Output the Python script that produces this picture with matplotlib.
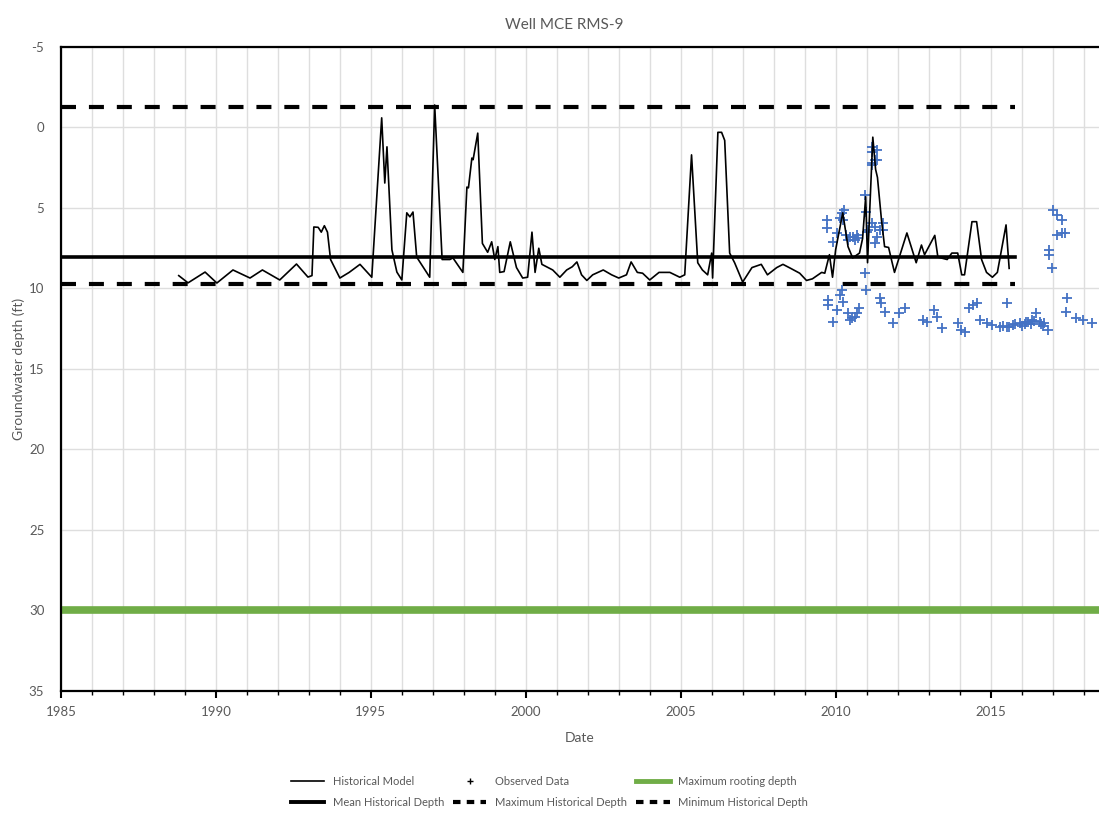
import matplotlib
matplotlib.use("Agg")
import matplotlib.pyplot as plt
from matplotlib.lines import Line2D
from matplotlib.ticker import MultipleLocator

plt.rcParams["font.family"] = ["Lato", "DejaVu Sans"]
plt.rcParams["axes.unicode_minus"] = False

# ---- data ----
model_year = [1988.8, 1989.1, 1989.65, 1990.03, 1990.55, 1991.1, 1991.5, 1992.06, 1992.6, 1992.97,
              1993.1, 1993.16, 1993.3, 1993.4, 1993.5, 1993.6, 1993.7, 1994.0, 1994.3, 1994.65,
              1995.03, 1995.35, 1995.45, 1995.52, 1995.68, 1995.84, 1996.0, 1996.16, 1996.26, 1996.36,
              1996.48, 1996.8, 1996.9, 1997.06, 1997.3, 1997.55, 1997.65, 1997.97, 1998.1, 1998.15,
              1998.26, 1998.3, 1998.45, 1998.6, 1998.77, 1998.9, 1999.0, 1999.1, 1999.16, 1999.3,
              1999.5, 1999.7, 1999.9, 2000.06, 2000.2, 2000.3, 2000.42, 2000.52, 2000.87, 2001.1,
              2001.32, 2001.5, 2001.65, 2001.8, 2001.97, 2002.16, 2002.5, 2002.77, 2003.0, 2003.25,
              2003.4, 2003.6, 2003.77, 2004.0, 2004.3, 2004.65, 2004.97, 2005.13, 2005.35, 2005.55,
              2005.7, 2005.87, 2006.0, 2006.03, 2006.2, 2006.32, 2006.42, 2006.58, 2006.74, 2007.0,
              2007.3, 2007.6, 2007.8, 2008.1, 2008.3, 2008.55, 2008.84, 2009.06, 2009.25, 2009.55,
              2009.65, 2009.8, 2009.9, 2010.0, 2010.23, 2010.4, 2010.55, 2010.77, 2010.87, 2010.97,
              2011.03, 2011.2, 2011.29, 2011.35, 2011.48, 2011.58, 2011.71, 2011.8, 2011.9, 2012.3,
              2012.6, 2012.77, 2012.87, 2013.2, 2013.3, 2013.6, 2013.75, 2013.94, 2014.07, 2014.16,
              2014.4, 2014.55, 2014.71, 2014.87, 2015.06, 2015.22, 2015.5, 2015.6]
model_depth = [9.2, 9.65, 8.98, 9.66, 8.85, 9.35, 8.85, 9.47, 8.48, 9.29,
               9.2, 6.18, 6.2, 6.5, 6.1, 6.5, 8.2, 9.35, 9.0, 8.5,
               9.3, -0.6, 3.45, 1.2, 7.6, 8.98, 9.47, 5.3, 5.55, 5.25,
               8.05, 9.0, 9.3, -1.4, 8.2, 8.2, 8.1, 9.0, 3.7, 3.75,
               1.9, 2.0, 0.35, 7.2, 7.75, 7.1, 8.2, 7.4, 9.0, 8.95,
               7.1, 8.7, 9.35, 9.3, 6.5, 9.0, 7.5, 8.5, 8.85, 9.3,
               8.85, 8.65, 8.35, 9.15, 9.5, 9.15, 8.85, 9.15, 9.35, 9.15,
               8.35, 9.0, 9.05, 9.47, 9.0, 9.0, 9.3, 9.15, 1.7, 8.4,
               8.85, 9.15, 7.8, 9.35, 0.3, 0.3, 0.8, 7.8, 8.4, 9.6,
               8.7, 8.5, 9.15, 8.7, 8.5, 8.75, 9.05, 9.5, 9.4, 9.0,
               9.05, 7.9, 9.3, 7.6, 5.3, 7.4, 8.1, 7.8, 6.9, 4.3,
               8.4, 0.6, 2.6, 3.1, 5.75, 7.4, 7.45, 8.2, 9.0, 6.55,
               8.4, 7.3, 7.9, 6.7, 8.05, 8.2, 7.8, 7.8, 9.15, 9.15,
               5.85, 5.85, 8.2, 9.0, 9.3, 9.0, 6.05, 8.75]

obs_year = [2009.71, 2009.71, 2009.90, 2010.03, 2010.13, 2010.19, 2010.26, 2010.23, 2010.35, 2010.45,
            2010.55, 2010.61, 2010.68, 2010.71, 2010.39, 2010.94, 2010.97, 2011.00, 2011.16, 2011.19,
            2011.19, 2011.26, 2011.32, 2011.35, 2011.16, 2011.19, 2011.26, 2011.32, 2011.26, 2011.42,
            2011.52, 2011.52, 2011.03, 2010.94, 2010.97,
            2009.74, 2009.74, 2010.03, 2009.90, 2010.13, 2010.19, 2010.23, 2010.39, 2010.52, 2010.61,
            2010.68, 2010.77, 2010.45, 2011.42, 2011.48, 2011.58, 2011.84, 2012.06, 2012.23, 2012.81,
            2012.94, 2013.19, 2013.26, 2013.42, 2013.94, 2014.06, 2014.16, 2014.32, 2014.42, 2014.55,
            2014.65, 2014.87, 2015.06, 2015.29, 2015.52, 2015.52, 2015.71, 2015.94, 2016.16, 2016.35,
            2016.48, 2016.58, 2016.74, 2016.84, 2017.48, 2017.45, 2017.77, 2017.97, 2018.29,
            2015.40, 2015.60, 2015.80, 2016.00, 2016.10, 2016.20, 2016.30, 2016.40, 2016.62, 2016.70,
            2017.00, 2017.13, 2017.29, 2017.16, 2017.29, 2017.39, 2016.90, 2016.90, 2016.97]
obs_depth = [5.75, 6.24, 7.11, 6.55, 5.62, 5.31, 5.12, 5.75, 6.68, 6.80,
             6.80, 6.99, 6.68, 6.86, 6.99, 4.19, 5.25, 6.49, 1.21, 1.52,
             2.33, 2.02, 1.40, 2.02, 2.20, 5.93, 6.18, 6.80, 7.17, 6.37,
             5.93, 6.37, 6.37, 9.04, 10.09,
             10.71, 11.02, 11.34, 12.08, 10.40, 10.09, 10.84, 11.52, 11.83, 11.77,
             11.52, 11.21, 11.96, 10.59, 10.90, 11.46, 12.14, 11.52, 11.21, 11.96,
             12.08, 11.34, 11.77, 12.45, 12.14, 12.58, 12.70, 11.21, 11.02, 10.90,
             11.96, 12.14, 12.27, 12.39, 10.90, 12.39, 12.27, 12.14, 12.08, 11.96,
             11.52, 12.08, 12.14, 12.58, 10.59, 11.46, 11.83, 11.96, 12.14,
             12.30, 12.40, 12.20, 12.30, 12.20, 12.10, 12.20, 12.00, 12.20, 12.30,
             5.12, 5.43, 5.75, 6.68, 6.55, 6.55, 7.61, 7.92, 8.73]

hist_period = [1985, 2015.8]
max_hist_depth = -1.27
mean_hist_depth = 8.04
min_hist_depth = 9.72
rooting_depth = 30

GREY = "#595959"
GRID = "#dedede"
BLUE = "#4472C4"
GREEN = "#70AD47"
DASH = (3.6, 3.1)

fig = plt.figure(figsize=(10.99, 8.16), dpi=100)
ax = fig.add_axes([0.0555, 0.1532, 0.9445, 0.7892])

ax.axhline(rooting_depth, color=GREEN, lw=5.5, zorder=2)
ax.plot(hist_period, [mean_hist_depth] * 2, color="black", lw=2.6, zorder=3)
ax.plot(hist_period, [max_hist_depth] * 2, color="black", lw=3, dashes=DASH, zorder=3)
ax.plot(hist_period, [min_hist_depth] * 2, color="black", lw=3, dashes=DASH, zorder=3)
ax.plot(obs_year, obs_depth, ls="none", marker="+", ms=6.5, mew=1.3, color=BLUE, zorder=4)
ax.plot(model_year, model_depth, color="black", lw=1.2, zorder=5)

ax.set_xlim(1985, 2018.5)
ax.set_ylim(35, -5)
ax.xaxis.set_major_locator(MultipleLocator(5))
ax.xaxis.set_minor_locator(MultipleLocator(1))
ax.yaxis.set_major_locator(MultipleLocator(5))
ax.grid(which="both", axis="x", color=GRID, lw=1)
ax.grid(which="major", axis="y", color=GRID, lw=1)
ax.set_axisbelow(True)
for s in ["left", "bottom", "top"]:
    ax.spines[s].set_linewidth(1.6)
ax.spines["right"].set_visible(False)
ax.tick_params(axis="x", which="major", length=5, width=1.5, colors="black",
               labelcolor=GREY, labelsize=9.5, pad=6)
ax.tick_params(axis="x", which="minor", length=3, width=1, colors="black")
ax.tick_params(axis="y", length=0, labelcolor=GREY, labelsize=9.5, pad=12)

ax.set_xlabel("Date", color=GREY, fontsize=10, labelpad=10)
ax.set_ylabel("Groundwater depth (ft)", color=GREY, fontsize=10, labelpad=3)
ax.set_title("Well MCE RMS-9", color=GREY, fontsize=11, pad=13, x=0.485)

handles = [
    Line2D([], [], color="black", lw=1.2),
    Line2D([], [], color="black", lw=2.8),
    Line2D([], [], ls="none", marker="+", ms=5, mew=1, color="black"),
    Line2D([], [], color="black", lw=3, dashes=(1.8, 1.5)),
    Line2D([], [], color=GREEN, lw=3.5),
    Line2D([], [], color="black", lw=3, dashes=(1.8, 1.5)),
]
labels = ["Historical Model", "Mean Historical Depth", "Observed Data",
          "Maximum Historical Depth", "Maximum rooting depth", "Minimum Historical Depth"]
leg = fig.legend(handles, labels, ncol=3, loc="center", bbox_to_anchor=(0.5, 0.03),
                 frameon=False, fontsize=8, labelcolor=GREY, columnspacing=0.8,
                 handlelength=3, labelspacing=0.9)

fig.savefig("out.png", dpi=100)
